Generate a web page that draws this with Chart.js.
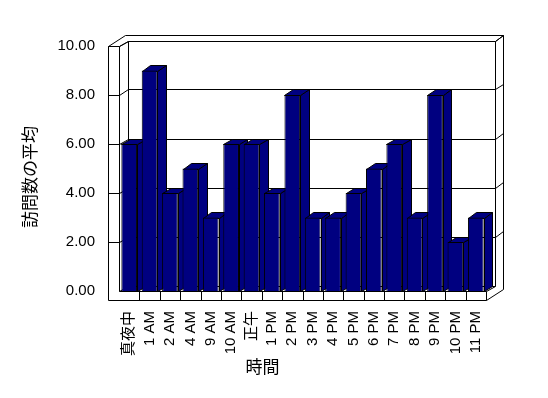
<!DOCTYPE html>
<html>
<head>
<meta charset="utf-8">
<script src="https://cdn.jsdelivr.net/npm/chart.js@4"></script>
<style>
  html, body { margin: 0; padding: 0; background: #fff; }
</style>
</head>
<body>
<canvas id="myChart" width="548" height="398"></canvas>
<script>
const hours = [
    '真夜中', '1 AM', '2 AM', '4 AM', '9 AM', '10 AM', '正午', '1 PM', '2 PM',
    '3 PM', '4 PM', '5 PM', '6 PM', '7 PM', '8 PM', '9 PM', '10 PM', '11 PM',
];
const visits = [6, 9, 4, 5, 3, 6, 6, 4, 8, 3, 3, 4, 5, 6, 3, 8, 2, 3];
const yTicks = [0, 2, 4, 6, 8, 10];
const xTitle = '時間';
const yTitle = '訪問数の平均';

const navy = '#000080';
const DX = 8.5, DY = -5.5;   // depth offset of the 3d box
const WALL = 11;             // left wall thickness
const FLOOR = 9;             // floor thickness

const px = v => Math.round(v) + 0.5;

function line(ctx, pts) {
    ctx.beginPath();
    pts.forEach(([a, b], i) => i ? ctx.lineTo(px(a), px(b)) : ctx.moveTo(px(a), px(b)));
    ctx.stroke();
}

function poly(ctx, pts) {
    ctx.beginPath();
    pts.forEach(([a, b], i) => i ? ctx.lineTo(px(a), px(b)) : ctx.moveTo(px(a), px(b)));
    ctx.closePath();
    ctx.fill();
    ctx.stroke();
}

const box3d = {
    id: 'box3d',
    beforeDatasetsDraw(chart) {
        const { ctx, chartArea: a, scales: { x, y } } = chart;
        const L = a.left, R = a.right, T = a.top, B = a.bottom;
        const wl = L - WALL, fb = B + FLOOR;
        ctx.save();
        ctx.lineWidth = 1;
        ctx.strokeStyle = '#000';

        // left wall
        line(ctx, [[wl, T], [wl, fb]]);
        line(ctx, [[L, T], [L, B]]);
        line(ctx, [[wl, T], [L, T]]);
        line(ctx, [[wl, T], [wl + 2 * DX, T + 2 * DY], [R + 2 * DX, T + 2 * DY]]);
        line(ctx, [[L, T], [L + DX, T + DY], [R + DX, T + DY], [R + 2 * DX, T + 2 * DY]]);
        // back wall edges
        line(ctx, [[L + DX, T + DY], [L + DX, B + DY]]);
        line(ctx, [[R + DX, T + DY], [R + DX, B + DY]]);
        line(ctx, [[R + 2 * DX, T + 2 * DY], [R + 2 * DX, fb + 2 * DY]]);
        // floor
        line(ctx, [[wl, fb], [R, fb], [R + 2 * DX, fb + 2 * DY]]);
        line(ctx, [[L, B], [R, B], [R, fb]]);
        line(ctx, [[R, B], [R + DX, B + DY]]);
        line(ctx, [[L, B], [L + DX, B + DY], [R + DX, B + DY]]);
        for (let i = 1; i < hours.length; i++) {
            const bx = (x.getPixelForTick(i - 1) + x.getPixelForTick(i)) / 2;
            line(ctx, [[bx, B], [bx, fb]]);
        }
        // gridlines
        yTicks.filter(v => v > 0).forEach(v => {
            const yf = y.getPixelForValue(v);
            line(ctx, [[wl, yf], [L, yf], [L + DX, yf + DY], [R + DX, yf + DY], [R + 2 * DX, yf + 2 * DY]]);
        });

        // bar sides and tops, left to right
        ctx.fillStyle = navy;
        chart.getDatasetMeta(0).data.forEach(bar => {
            const { x: cx, y: top, base, width } = bar.getProps(['x', 'y', 'base', 'width'], true);
            const l = cx - width / 2, r = cx + width / 2;
            poly(ctx, [[r, top], [r + DX, top + DY], [r + DX, base + DY], [r, base]]);
            poly(ctx, [[l, top], [l + DX, top + DY], [r + DX, top + DY], [r, top]]);
        });
        ctx.restore();
    },
    afterDraw(chart) {
        const { ctx } = chart;
        ctx.save();
        ctx.fillStyle = '#000';
        ctx.font = '17px "Noto Sans CJK JP", "Liberation Sans", sans-serif';
        ctx.textAlign = 'center';
        ctx.textBaseline = 'middle';
        ctx.fillText(xTitle, 262.5, 367);
        ctx.translate(30, 177);
        ctx.rotate(-Math.PI / 2);
        ctx.fillText(yTitle, 0, 0);
        ctx.restore();
    }
};

Chart.defaults.color = '#000';
Chart.defaults.font.family = '"Liberation Sans", "Noto Sans CJK JP", sans-serif';
Chart.defaults.font.size = 15;

const data = {
    labels: hours,
    datasets: [
        {
            label: yTitle,
            backgroundColor: navy,
            borderColor: '#000',
            borderWidth: 1,
            barPercentage: 0.77,
            categoryPercentage: 1.0,
            data: visits,
        },
    ]
};

const config = {
    type: 'bar',
    data: data,
    options: {
        responsive: false,
        animation: false,
        layout: { padding: { left: 0, right: 62, top: 46, bottom: 0 } },
        plugins: {
            legend: { display: false },
            tooltip: { enabled: false },
        },
        scales: {
            x: {
                grid: { display: false, drawTicks: false },
                border: { display: false },
                ticks: { autoSkip: false, minRotation: 90, maxRotation: 90, padding: 20 },
                afterFit(scale) { scale.height = 107; },
            },
            y: {
                min: 0,
                max: 10,
                grid: { display: false, drawTicks: false },
                border: { display: false },
                ticks: {
                    stepSize: 2,
                    padding: 24,
                    callback: v => v.toFixed(2),
                },
                afterFit(scale) { scale.width = 119; },
            }
        }
    },
    plugins: [box3d]
};

const chart = new Chart(
    document.getElementById('myChart'),
    config
);
</script>
</body>
</html>
